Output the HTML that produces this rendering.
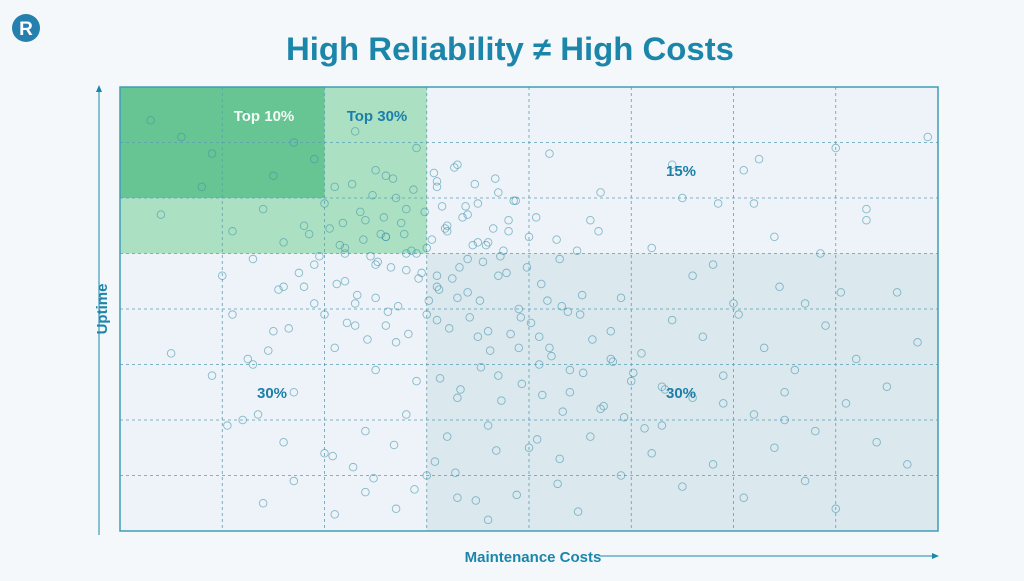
<!DOCTYPE html>
<html><head><meta charset="utf-8"><style>
body{margin:0;width:1024px;height:576px;background:#f5f8fb;font-family:"Liberation Sans",sans-serif;overflow:hidden}
</style></head><body>
<svg width="1024" height="576">
<g><circle cx="26" cy="28" r="14" fill="#2680ad"/><text x="26" y="35" text-anchor="middle" font-size="19" font-weight="bold" fill="#fff">R</text></g>
<text x="510" y="60" text-anchor="middle" font-size="32" font-weight="bold" fill="#1b86aa" textLength="448" lengthAdjust="spacingAndGlyphs">High Reliability ≠  High Costs</text>
<g id="plot"></g>
<g><line x1="99" y1="535" x2="99" y2="90" stroke="#1b86aa" stroke-width="1"/><path d="M96,92 L99,85 L102,92Z" fill="#1b86aa"/>
<text transform="translate(107,309) rotate(-90)" text-anchor="middle" font-size="15" font-weight="bold" fill="#1b86aa">Uptime</text></g>
<g><line x1="600" y1="556" x2="932" y2="556" stroke="#1b86aa"/><path d="M932,553 L939,556 L932,559Z" fill="#1b86aa"/>
<text x="533" y="562" text-anchor="middle" font-size="15" font-weight="bold" fill="#1b86aa">Maintenance Costs</text></g>
</svg>
<script>
const xs=[0.3,0.6,0.9,1.2,1.5,1.7,1.9,2.1,2.3,2.5,2.7,2.9,3.1,3.3,3.5,3.7,0.4,0.8,1.1,1.4,1.6,1.8,2.0,2.2,2.4,2.6,2.8,3.0,3.2,3.4,3.6,3.8,1.0,1.3,1.6,1.9,2.2,2.5,2.8,3.1,3.4,3.7,4.0,4.3,4.6,4.9,5.2,5.5,5.8,6.1,6.4,6.7,7.0,7.3,7.6,1.1,1.5,1.9,2.3,2.7,3.1,3.5,3.9,4.2,4.5,4.8,5.1,5.4,5.7,6.0,6.3,6.6,6.9,7.2,7.5,7.8,0.5,0.9,1.3,1.7,2.1,2.5,2.9,3.3,3.7,4.1,4.4,4.7,5.0,5.3,5.6,5.9,6.2,6.5,6.8,7.1,7.4,7.7,1.2,1.6,2.0,2.4,2.8,3.2,3.6,4.0,4.3,4.6,4.9,5.2,5.5,5.8,6.1,6.4,6.7,7.0,2.6,2.9,3.2,3.5,3.8,2.2,2.5,2.8,3.1,3.4,1.8,2.0,2.3,2.6,3.0,3.3,3.6,3.9,4.1,4.4,4.8,5.3,5.9,6.5,1.4,1.7,2.1,2.4,2.7,3.0,3.3,3.6,2.6,3.1,4.2,4.7,5.4,6.2,7.3,7.9,
2.05,2.15,2.35,2.45,2.55,2.65,2.75,2.85,2.95,3.05,3.15,3.25,3.35,3.45,3.55,3.65,3.75,3.85,1.95,1.85,2.12,2.32,2.52,2.72,2.92,3.12,3.32,3.52,3.72,3.92,4.12,4.32,4.52,2.18,2.38,2.58,2.78,2.98,3.18,3.38,3.58,3.78,3.98,4.18,4.38,1.75,1.55,2.22,2.42,2.62,2.82,3.02,3.22,3.42,3.62,3.82,4.02,4.22,4.62,4.82,5.02,2.27,2.47,2.67,2.87,3.07,3.27,3.47,3.67,3.87,4.07,4.27,4.47,1.65,1.45,3.13,3.33,3.53,3.73,3.93,4.13,4.33,4.53,4.73,4.93,5.13,5.33,2.08,2.28,2.48,2.68,2.88,3.08,3.28,3.48,3.68,3.88,4.08,4.28,4.48,4.68,5.6,5.85,6.05,6.25,6.45,6.85,7.05,1.35,1.25,1.05];
const ys=[7.4,7.1,6.8,7.5,6.4,7.0,6.7,6.2,7.2,6.5,6.0,6.9,6.3,6.6,5.9,6.1,5.7,6.2,5.4,5.8,5.2,5.5,5.9,5.0,5.6,5.3,5.8,5.1,5.5,5.7,5.2,5.4,4.6,4.9,4.4,4.8,4.5,4.2,4.7,4.4,4.9,4.6,5.3,4.9,5.6,4.2,5.1,6.0,4.8,6.5,5.3,4.1,6.9,5.8,4.3,3.9,3.6,4.1,3.7,3.4,3.8,3.5,4.0,3.3,3.9,3.6,3.2,3.8,3.5,4.1,3.3,2.9,3.7,3.1,2.6,3.4,3.2,2.8,3.0,2.5,3.3,2.9,2.7,2.4,2.8,3.0,2.5,2.2,2.7,1.9,2.4,2.8,2.1,2.5,1.8,2.3,1.6,1.2,2.0,1.6,1.4,1.8,2.1,1.7,1.9,1.5,1.3,1.7,1.0,1.4,0.8,1.2,0.6,1.5,0.9,0.4,5.3,5.0,5.4,5.2,5.6,5.1,4.8,5.0,4.6,4.3,4.4,3.9,4.1,3.7,3.9,4.2,3.6,3.3,3.5,2.9,3.1,2.6,2.3,2.0,0.5,0.9,0.3,0.7,0.4,1.0,0.6,0.2,6.4,6.2,6.8,6.1,6.6,5.9,5.6,7.1,
5.45,5.15,5.75,4.95,5.35,4.75,5.55,5.05,4.65,5.25,5.85,4.55,5.65,5.15,4.85,5.45,5.05,5.95,4.95,5.35,4.45,4.25,4.85,4.05,4.55,4.35,4.75,4.15,4.95,3.85,4.45,4.05,4.25,5.55,5.25,5.65,5.35,5.75,5.45,5.85,5.15,4.65,4.75,4.15,3.95,4.65,4.35,3.75,3.45,3.95,3.55,4.15,3.65,3.85,3.25,3.55,3.75,3.15,3.45,3.05,2.85,6.25,6.05,6.35,6.15,6.45,6.55,6.25,6.35,5.95,5.65,5.25,5.05,3.65,3.25,2.75,2.55,2.95,2.35,2.65,2.45,2.15,2.85,2.25,2.05,1.85,2.55,1.35,1.15,0.95,1.55,0.75,1.25,1.05,0.55,1.45,0.65,1.65,0.85,0.35,5.4,4.6,5.9,3.9,6.7,4.4,5.0,4.3,2.1,3.1,1.9];
const costs=["30%","30%","15%"];
const X0=120,X1=938,Y0=87,Y1=531;
const sx=v=>X0+(X1-X0)*v/8, sy=v=>Y1-(Y1-Y0)*v/8;
const NS="http://www.w3.org/2000/svg",g=document.getElementById('plot');
function mk(t,a){const e=document.createElementNS(NS,t);for(const k in a)e.setAttribute(k,a[k]);g.appendChild(e);return e;}
let e;
e=mk('rect',{x:X0,y:Y0,width:X1-X0,height:Y1-Y0,fill:'#edf3f8'});

e=mk('rect',{x:sx(3),y:sy(5),width:sx(8)-sx(3),height:sy(0)-sy(5),fill:'#dbe8ee'});

e=mk('rect',{x:sx(0),y:sy(8),width:sx(3)-sx(0),height:sy(5)-sy(8),fill:'#ace0c3'});

e=mk('rect',{x:sx(0),y:sy(8),width:sx(2)-sx(0),height:sy(6)-sy(8),fill:'#66c592'});

for(let i=1;i<8;i++){
 e=mk('line',{x1:sx(i),x2:sx(i),y1:Y0,y2:Y1,stroke:'#5a9fb5','stroke-width':0.8,'stroke-dasharray':'3,3'});
 
 e=mk('line',{x1:X0,x2:X1,y1:sy(i),y2:sy(i),stroke:'#5a9fb5','stroke-width':0.8,'stroke-dasharray':'3,3'});
 
}
e=mk('rect',{x:X0,y:Y0,width:X1-X0,height:Y1-Y0,fill:'none',stroke:'#3f9db5','stroke-width':1.5});

const n=Math.min(xs.length,ys.length);
for(let i=0;i<n;i++){
 e=mk('circle',{cx:sx(xs[i]),cy:sy(ys[i]),r:3.8,fill:'none',stroke:'#3f93aa','stroke-opacity':0.6,'stroke-width':0.9});
 
}
function lab(x,y,t,c,n){e=mk('text',{x:x,y:y,'text-anchor':'middle','font-size':15,'font-weight':'bold',fill:c});e.textContent=t;
 }
lab(264,121,'Top 10%','#f2fbf5','top-10-label');
lab(377,121,'Top 30%','#1b7fa8','top-30-label');
lab(681,176,costs[2],'#1b7fa8','region-label-top-right');
lab(272,398,costs[0],'#1b7fa8','region-label-bottom-left');
lab(681,398,costs[1],'#1b7fa8','region-label-bottom-right');
</script>
</body></html>
